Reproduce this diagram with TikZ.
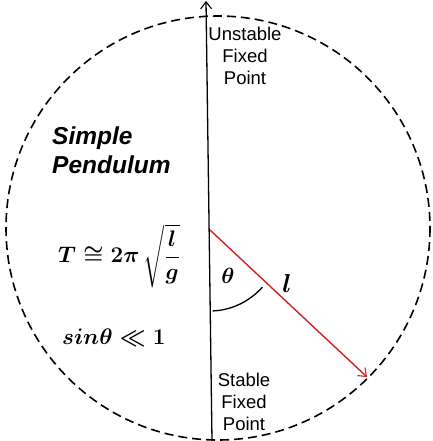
\RequirePackage{fix-cm}
\documentclass[tikz,border=0pt]{standalone}
\usepackage{amsmath}
\usepackage{fontspec}
\newfontfamily\arialf{Liberation Sans}
\usetikzlibrary{arrows.meta}
\definecolor{pendred}{RGB}{205,35,35}
\begin{document}
\begin{tikzpicture}[x=1pt,y=-1pt,
  circ/.style={draw=black,line width=1.6pt,dash pattern=on 9pt off 5pt},
  axisline/.style={draw=black,line width=1.3pt,-{Straight Barb[length=7pt,width=11pt,line width=1.1pt]}},
  rod/.style={draw=pendred,line width=1.4pt,-{Straight Barb[length=7pt,width=11pt,line width=1.1pt]}},
  lbl/.style={font=\arialf\fontsize{18.5}{22}\selectfont,align=center,inner sep=0pt},
  title/.style={font=\arialf\bfseries\itshape\fontsize{24.5}{29}\selectfont,align=left,inner sep=0pt,anchor=west},
  eqn/.style={inner sep=0pt,font=\fontsize{22.5}{27}\selectfont\boldmath}
]
\useasboundingbox (0,0) rectangle (432,441);
% dashed circle
\coordinate (c) at (218,228);
\draw[circ] (c) circle [radius=212];
% vertical axis
\coordinate (bot) at (212,441);
\coordinate (top) at (206,1);
\coordinate (pivot) at (210,230);
\coordinate (bob) at (367,377);
\draw[axisline] (bot) -- (top);
% pendulum rod
\draw[rod] (pivot) -- (bob);
% angle arc
\draw[line width=1.3pt] (pivot) ++(88:74 and 81) coordinate (a0)
  arc [start angle=88,end angle=45,x radius=74,y radius=81];
% labels
\node[lbl] (unst) at (245,56) {Unstable\\Fixed\\Point};
\node[lbl] (stab) at (244,402) {Stable\\Fixed\\Point};
\node[title] (ttl) at (52,150) {Simple\\Pendulum};
\node[eqn,anchor=west] (period) at (58,256) {$T \cong 2\pi\,\sqrt{\dfrac{l}{g}}$};
\node[eqn,anchor=west] (small) at (62,338) {$sin\theta \ll 1$};
\node[eqn,font=\fontsize{22}{26}\selectfont\boldmath] (th) at (228,276) {$\theta$};
\node[eqn,font=\fontsize{26}{30}\selectfont\boldmath] (ll) at (287,283) {$l$};
\end{tikzpicture}
\end{document}
